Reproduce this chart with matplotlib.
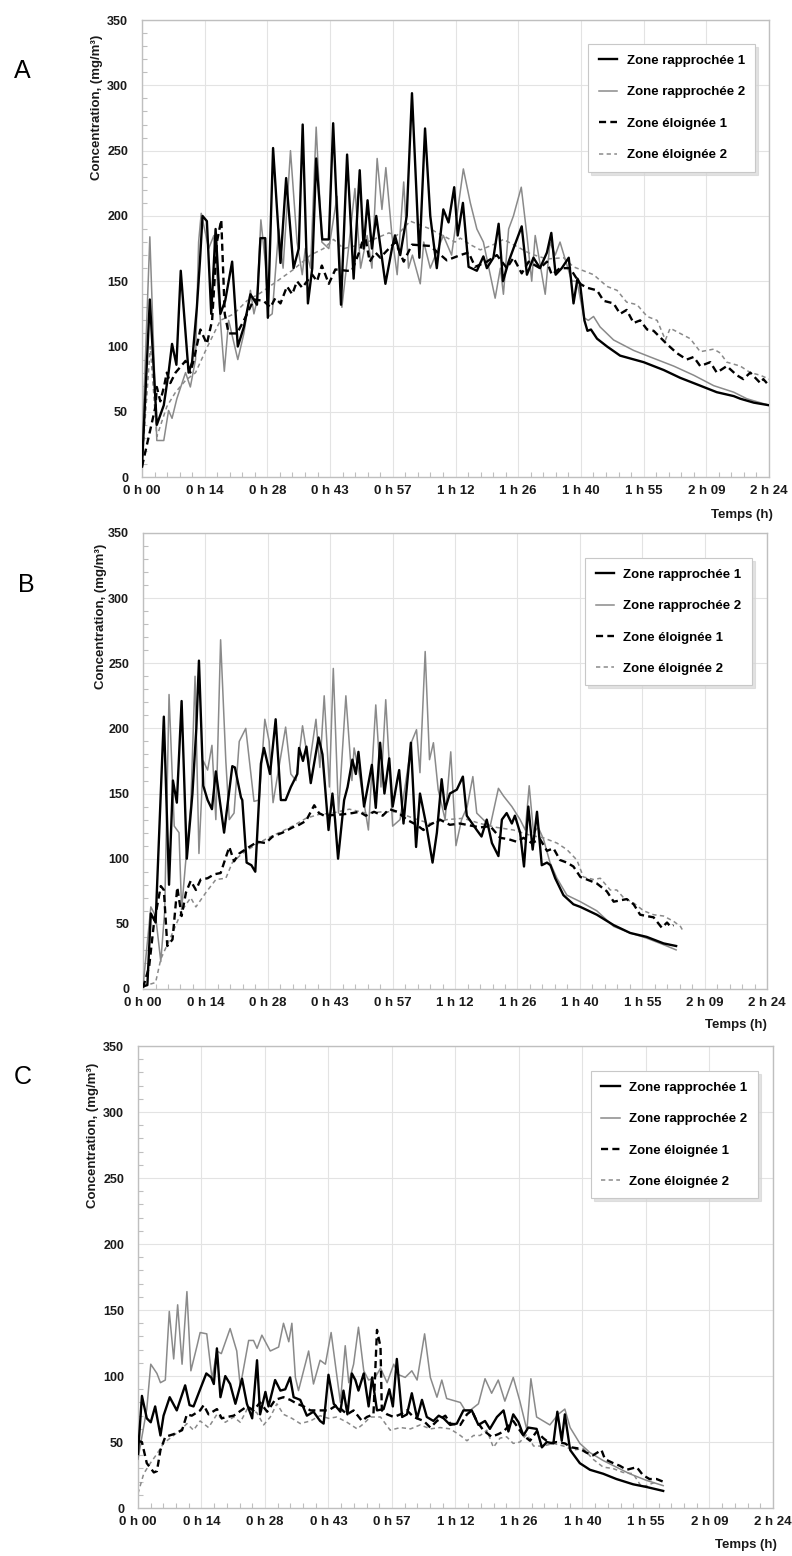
import numpy as np
import matplotlib.pyplot as plt
from matplotlib.ticker import MultipleLocator, FixedLocator, FixedFormatter

plt.rcParams['font.family'] = ['Liberation Sans', 'DejaVu Sans']

# axe x en minutes : 0 h 00 -> 2 h 24 (144 min)
xticks_min = [0, 14.4, 28.8, 43.2, 57.6, 72, 86.4, 100.8, 115.2, 129.6, 144]
xtick_labels = ["0 h 00", "0 h 14", "0 h 28", "0 h 43", "0 h 57", "1 h 12",
                "1 h 26", "1 h 40", "1 h 55", "2 h 09", "2 h 24"]
series_labels = ["Zone rapprochée 1", "Zone rapprochée 2", "Zone éloignée 1", "Zone éloignée 2"]
panel_letters = ["A", "B", "C"]

# ---------------- A ----------------
tA_r1 = [0.0, 1.8, 3.4, 5.0, 6.1, 6.9, 7.9, 8.9, 10.7, 11.5, 12.6, 13.3, 13.9, 14.9, 15.9, 16.9, 18.0, 19.1,
         20.7, 22.0, 23.4, 24.9, 26.4, 27.2, 28.3, 28.9, 30.1, 31.8, 33.1, 34.8, 36.0, 36.9, 38.1, 39.1, 40.0,
         41.4, 42.9, 43.9, 45.7, 47.1, 48.6, 50.0, 50.9, 51.8, 52.8, 53.8, 55.9, 57.4, 58.1, 59.3, 60.8, 62.0,
         63.7, 65.0, 66.2, 67.7, 69.2, 70.4, 71.7, 72.5, 73.7, 75.0, 76.9, 78.4, 79.2, 80.7, 81.9, 82.9, 84.2,
         85.3, 87.2, 88.4, 89.9, 91.4, 93.0, 94.0, 95.0, 96.4, 98.0, 99.1, 100.0, 100.6, 101.6, 102.3, 103.1,
         104.5, 106.8, 109.8, 115.2, 119.8, 123.6, 128.2, 132.0, 135.9, 137.4, 140.5, 144.0]
vA_r1 = [8, 136, 40, 55, 80, 102, 86, 158, 80, 88, 130, 165, 200, 196, 125, 190, 125, 135,
         165, 100, 115, 140, 132, 183, 183, 122, 252, 164, 229, 160, 175, 270, 133, 160, 244,
         182, 182, 271, 132, 247, 152, 235, 175, 212, 175, 200, 148, 175, 185, 170, 200, 294,
         168, 267, 200, 160, 205, 195, 222, 185, 210, 161, 158, 169, 160, 168, 194, 150, 165,
         175, 192, 155, 168, 160, 172, 187, 155, 160, 168, 133, 152, 148, 120, 112, 113,
         106, 100, 93, 88, 82, 76, 70, 65, 62, 60, 57, 55]

tA_r2 = [0.0, 1.8, 3.4, 5.0, 6.1, 6.9, 8.0, 10.0, 11.1, 12.3, 13.0, 13.6, 15.3, 16.5, 18.9, 19.9, 22.0, 23.4,
         24.9, 25.7, 26.4, 27.3, 28.3, 29.1, 29.9, 31.4, 32.4, 34.1, 35.6, 36.8, 37.5, 38.7, 40.0, 41.3, 42.9,
         44.8, 45.9, 47.1, 48.9, 50.2, 51.7, 52.8, 54.0, 55.1, 56.0, 57.4, 58.6, 60.1, 61.2, 62.1, 63.9, 64.7,
         66.2, 69.2, 71.1, 73.8, 75.4, 76.9, 78.4, 81.1, 82.3, 83.0, 84.2, 85.3, 87.1, 88.4, 89.5, 90.3, 92.6,
         93.7, 94.9, 96.0, 98.7, 99.9, 101.5, 102.5, 103.7, 105.2, 108.3, 112.9, 116.7, 122.1, 126.7, 131.3,
         135.9, 138.9, 144.0]
vA_r2 = [20, 184, 28, 28, 51, 45, 60, 80, 69, 90, 180, 202, 175, 185, 81, 120, 90, 110,
         143, 125, 135, 197, 165, 123, 125, 190, 160, 250, 180, 155, 175, 160, 268, 180, 175,
         215, 130, 165, 221, 160, 185, 160, 244, 205, 237, 185, 155, 226, 160, 170, 148, 180,
         160, 185, 170, 236, 210, 190, 180, 137, 160, 140, 190, 200, 222, 185, 150, 185, 140,
         180, 170, 180, 150, 150, 122, 120, 123, 115, 105, 97, 92, 85, 78, 70,
         65, 60, 55]

tA_e1 = [0.0, 3.1, 3.4, 4.2, 5.1, 5.7, 6.5, 7.7, 10.0, 11.1, 11.9, 13.4, 14.9, 16.1, 17.2, 18.2, 19.0, 19.9,
         21.8, 23.4, 25.7, 27.9, 29.5, 30.6, 31.8, 33.3, 34.5, 35.6, 36.8, 37.9, 39.1, 40.2, 41.3, 42.9, 44.4,
         47.1, 48.2, 50.2, 51.1, 52.3, 53.6, 54.7, 56.7, 58.2, 60.1, 62.0, 66.2, 70.0, 73.1, 75.0, 76.5, 79.2,
         81.5, 83.8, 85.3, 87.2, 88.8, 91.4, 93.0, 94.1, 96.0, 98.3, 100.6, 102.2, 104.5, 106.0, 108.3, 109.8,
         111.3, 112.9, 114.4, 116.0, 117.5, 120.5, 122.8, 125.1, 126.7, 128.2, 130.5, 132.0, 134.3, 136.6,
         138.1, 139.7, 142.0, 142.7, 144.0]
vA_e1 = [8, 54, 69, 58, 70, 80, 72, 80, 89, 80, 90, 113, 102, 120, 180, 197, 125, 110,
         110, 120, 136, 135, 130, 137, 133, 146, 140, 150, 145, 150, 155, 150, 162, 148, 159,
         158, 158, 175, 187, 165, 172, 168, 175, 180, 165, 178, 177, 166, 170, 172, 161, 165,
         170, 160, 168, 156, 165, 160, 165, 155, 160, 160, 148, 145, 143, 135, 133, 125,
         128, 118, 120, 113, 112, 102, 95, 90, 92, 85, 88, 80, 85, 78,
         75, 80, 72, 75, 70]

tA_e2 = [0.0, 1.9, 3.4, 5.7, 7.7, 10.0, 12.3, 14.9, 18.0, 21.1, 24.1, 27.2, 31.0, 34.8, 38.7, 41.7, 44.0,
         46.3, 50.2, 51.7, 56.7, 58.5, 61.6, 66.2, 71.9, 73.1, 75.4, 77.7, 80.7, 83.0, 85.3, 89.2, 93.0, 96.8,
         99.1, 101.4, 103.7, 106.8, 109.1, 111.3, 113.7, 116.0, 118.3, 120.2, 121.3, 123.6, 125.9, 128.2,
         131.3, 132.8, 134.3, 137.4, 139.7, 142.0, 144.0]
vA_e2 = [10, 100, 31, 54, 65, 74, 80, 99, 120, 125, 135, 141, 150, 159, 170, 175, 182,
         175, 178, 180, 187, 185, 196, 190, 180, 183, 178, 174, 178, 182, 178, 171, 167, 168,
         161, 158, 155, 146, 143, 134, 132, 123, 120, 105, 114, 110, 106, 96,
         98, 95, 88, 85, 80, 78, 75]

# ---------------- B ----------------
tB_r1 = [0.0, 1.0, 1.8, 2.9, 4.8, 6.0, 6.9, 7.8, 8.9, 10.1, 11.4, 12.3, 12.9, 13.9, 14.9, 15.9, 16.8, 18.7,
         20.6, 21.2, 22.6, 22.9, 23.9, 25.0, 25.9, 27.2, 27.9, 29.3, 30.6, 31.8, 32.9, 34.1, 35.6, 36.0, 36.9,
         37.7, 38.7, 40.5, 41.4, 42.8, 43.7, 44.3, 45.0, 46.4, 47.2, 48.3, 49.1, 49.7, 51.0, 52.8, 53.7, 54.7,
         55.7, 56.8, 57.6, 58.7, 59.1, 60.1, 61.8, 63.0, 63.9, 65.4, 66.8, 67.8, 68.9, 69.7, 70.8, 72.4, 73.8,
         74.7, 77.0, 78.1, 79.3, 80.5, 82.0, 82.8, 83.9, 85.1, 85.8, 87.0, 87.9, 88.9, 89.9, 90.9, 92.0, 93.2,
         94.0, 95.1, 97.0, 99.3, 100.9, 104.7, 108.6, 112.4, 116.2, 120.1, 123.0]
vB_r1 = [2, 3, 58, 51, 209, 80, 160, 143, 221, 100, 150, 200, 252, 156, 145, 138, 167, 120,
         171, 170, 147, 145, 97, 95, 90, 173, 185, 165, 207, 145, 145, 155, 165, 185, 175,
         186, 158, 193, 180, 122, 150, 130, 100, 145, 155, 176, 165, 182, 140, 172, 139, 189,
         150, 177, 140, 161, 168, 127, 189, 109, 150, 125, 97, 120, 161, 138, 150, 153, 163,
         133, 122, 117, 130, 112, 102, 130, 135, 127, 133, 120, 94, 140, 107, 136, 95, 97,
         95, 85, 72, 65, 63, 57, 49, 43, 40, 35, 33]

tB_r2 = [0.0, 1.8, 2.9, 4.1, 5.0, 6.0, 7.2, 8.3, 8.9, 9.9, 11.0, 12.0, 12.9, 13.9, 14.9, 15.9, 16.8, 17.9,
         19.1, 19.9, 21.0, 22.2, 23.7, 25.6, 26.8, 28.1, 29.1, 30.0, 32.9, 34.1, 35.3, 36.8, 38.3, 39.9, 40.8,
         41.8, 43.0, 43.9, 45.1, 46.8, 48.2, 48.7, 49.9, 52.0, 53.7, 54.9, 56.0, 57.6, 59.3, 60.8, 62.0, 63.1,
         63.9, 65.1, 66.1, 67.0, 68.1, 69.7, 71.0, 72.2, 73.5, 74.8, 76.1, 77.0, 78.5, 80.1, 82.0, 83.2, 85.1,
         87.0, 88.2, 89.1, 90.1, 91.2, 92.4, 93.9, 95.5, 97.8, 100.9, 104.7, 108.6, 112.4, 116.2, 120.1, 123.0]
vB_r2 = [2, 63, 56, 21, 60, 226, 125, 120, 61, 100, 140, 240, 104, 175, 168, 187, 130, 268,
         175, 130, 135, 190, 200, 144, 145, 207, 190, 143, 201, 165, 160, 202, 170, 207, 170,
         225, 155, 246, 135, 225, 160, 185, 165, 122, 218, 155, 222, 125, 130, 163, 190, 199,
         166, 259, 176, 189, 153, 130, 182, 110, 130, 140, 163, 135, 130, 125, 154, 148, 140,
         130, 122, 156, 120, 124, 115, 97, 85, 72, 67, 60, 48, 43, 39, 34, 30]

tB_e1 = [0.0, 1.4, 2.5, 4.1, 4.8, 5.6, 6.8, 7.9, 8.9, 9.9, 11.0, 12.2, 13.3, 14.9, 16.4, 17.9, 19.9, 21.0,
         22.2, 24.5, 26.4, 28.3, 29.9, 32.2, 34.5, 36.0, 37.6, 39.5, 40.6, 41.8, 46.0, 48.3, 49.9, 51.4, 53.3,
         55.3, 56.8, 58.7, 60.8, 63.1, 64.7, 66.2, 68.5, 70.8, 73.1, 77.8, 80.1, 82.4, 84.3, 86.2, 87.8, 89.7,
         91.6, 93.2, 94.7, 96.2, 97.8, 99.3, 100.9, 103.2, 104.7, 107.0, 108.6, 111.6, 113.2, 114.7, 116.2,
         117.8, 119.7, 120.9, 121.7, 122.4]
vB_e1 = [1, 17, 50, 79, 76, 33, 38, 78, 56, 74, 83, 76, 84, 85, 88, 89, 109, 98,
         104, 109, 113, 112, 117, 120, 124, 126, 129, 141, 135, 133, 134, 135, 136, 133, 136,
         133, 138, 136, 130, 126, 122, 126, 130, 126, 127, 124, 125, 116, 115, 113, 116, 112,
         115, 106, 108, 99, 97, 94, 86, 83, 81, 75, 67, 69, 65, 57, 56,
         55, 47, 51, 48, 49]

tB_e2 = [0.0, 2.9, 4.1, 6.8, 9.1, 11.0, 12.2, 14.5, 16.8, 19.1, 20.6, 22.9, 25.2, 28.3, 31.4, 34.5, 37.6,
         40.6, 43.7, 47.6, 51.4, 55.3, 58.5, 62.4, 66.2, 70.1, 73.9, 77.8, 81.6, 85.5, 89.3, 92.4, 95.5, 97.8,
         100.1, 101.6, 104.0, 105.5, 107.8, 109.3, 110.9, 113.2, 115.5, 117.8, 120.1, 122.4, 124.0, 124.7]
vB_e2 = [2, 5, 23, 43, 61, 70, 63, 74, 84, 85, 97, 104, 109, 115, 120, 125, 131,
         134, 135, 138, 135, 136, 136, 131, 127, 130, 131, 127, 124, 122, 118, 116, 112, 107,
         99, 86, 84, 85, 76, 76, 70, 66, 60, 57, 56, 52, 48, 44]

# ---------------- C ----------------
tC_r1 = [0.0, 0.9, 2.0, 2.9, 3.9, 5.1, 5.8, 7.2, 8.8, 10.7, 11.7, 12.6, 14.1, 15.5, 16.6, 17.2, 17.9, 18.7,
         19.8, 20.9, 22.1, 23.6, 24.7, 25.9, 27.0, 27.7, 28.9, 29.6, 31.1, 32.3, 33.4, 34.5, 35.3, 36.8, 38.3,
         39.8, 41.3, 42.1, 43.2, 44.4, 45.9, 46.6, 47.5, 48.5, 49.3, 50.0, 51.2, 52.3, 53.1, 54.2, 55.7, 57.0,
         57.8, 58.7, 59.9, 61.0, 62.1, 63.3, 64.4, 65.5, 67.0, 68.2, 69.3, 70.8, 72.3, 73.8, 75.7, 77.2, 78.7,
         79.8, 81.4, 82.9, 84.0, 85.1, 86.3, 87.4, 88.5, 90.4, 91.6, 92.7, 94.2, 95.1, 96.1, 96.8, 98.0, 100.2,
         102.5, 105.5, 108.5, 112.3, 115.3, 119.1]
vC_r1 = [41, 85, 68, 65, 77, 55, 70, 84, 74, 93, 78, 77, 90, 102, 99, 94, 121, 84,
         100, 94, 79, 98, 79, 68, 112, 71, 88, 77, 97, 89, 90, 99, 84, 82, 70,
         73, 66, 64, 101, 79, 73, 89, 71, 102, 97, 89, 102, 77, 99, 74, 75, 90,
         77, 113, 69, 71, 87, 68, 82, 69, 66, 70, 68, 63, 64, 74, 74, 63, 66,
         60, 69, 74, 58, 71, 65, 55, 61, 60, 46, 50, 49, 73, 51, 71, 44, 34,
         29, 26, 22, 18, 16, 13]

tC_r2 = [0.0, 2.0, 2.9, 4.3, 5.1, 6.2, 7.1, 8.1, 9.0, 10.0, 11.1, 12.0, 13.4, 14.1, 15.6, 16.8, 17.9, 18.9,
         20.9, 22.4, 23.2, 25.1, 26.2, 27.0, 28.1, 30.0, 31.9, 33.0, 34.2, 34.9, 35.7, 36.4, 38.7, 39.8, 41.3,
         42.5, 43.8, 45.9, 47.0, 47.8, 48.9, 50.0, 51.2, 52.3, 53.8, 55.0, 56.5, 58.0, 59.1, 60.6, 62.1, 63.3,
         65.0, 66.3, 67.8, 68.9, 70.0, 73.1, 74.2, 75.3, 77.2, 78.7, 80.2, 81.7, 83.2, 85.1, 86.6, 88.2, 89.1,
         90.4, 91.9, 93.4, 95.3, 96.8, 98.0, 100.2, 102.5, 105.5, 108.5, 111.5, 115.3, 119.1]
vC_r2 = [37, 75, 109, 102, 95, 97, 149, 113, 154, 109, 164, 104, 123, 133, 132, 98, 119, 117,
         136, 119, 92, 127, 127, 121, 131, 119, 122, 140, 126, 140, 99, 89, 119, 94, 112,
         109, 133, 80, 123, 95, 109, 137, 104, 97, 99, 106, 95, 109, 101, 99, 104, 97,
         132, 99, 84, 97, 83, 80, 74, 74, 79, 98, 87, 97, 81, 99, 81, 59, 98,
         69, 66, 63, 71, 75, 61, 49, 42, 36, 31, 26, 21, 17]

tC_e1 = [0.0, 0.9, 2.0, 3.6, 4.3, 5.1, 6.2, 8.1, 10.0, 11.1, 12.2, 14.1, 14.9, 16.0, 17.9, 19.0, 20.2, 21.7,
         24.7, 26.2, 27.7, 29.3, 31.1, 33.0, 34.5, 36.1, 37.6, 39.1, 43.2, 45.1, 47.4, 48.9, 50.8, 51.9, 53.4,
         54.2, 55.0, 55.3, 56.5, 58.0, 59.5, 61.0, 62.5, 64.8, 66.3, 67.8, 69.7, 70.8, 73.1, 74.6, 75.7, 76.8,
         78.3, 80.2, 81.7, 82.9, 85.1, 87.4, 88.9, 90.4, 91.9, 93.4, 94.9, 96.8, 98.3, 100.2, 101.7, 103.2,
         105.1, 105.9, 107.8, 109.3, 110.8, 113.1, 114.5, 116.0, 117.6, 119.1]
vC_e1 = [51, 50, 34, 27, 28, 44, 54, 56, 59, 71, 70, 74, 78, 71, 75, 68, 69, 70,
         77, 74, 80, 73, 82, 84, 82, 79, 77, 74, 74, 78, 71, 74, 66, 69, 71,
         135, 122, 74, 71, 69, 71, 74, 69, 66, 61, 66, 70, 64, 63, 71, 74, 66,
         59, 54, 56, 58, 66, 55, 51, 58, 53, 49, 50, 49, 46, 45, 42, 40,
         44, 37, 34, 32, 29, 31, 25, 22, 22, 20]

tC_e2 = [0.0, 1.3, 2.8, 4.3, 5.8, 7.3, 9.6, 11.1, 12.6, 14.1, 16.0, 17.9, 19.8, 21.7, 23.2, 25.1, 27.0,
         28.5, 30.0, 31.5, 33.0, 34.9, 36.8, 39.1, 41.3, 43.2, 45.1, 47.4, 49.7, 51.2, 52.7, 55.0, 57.2, 59.5,
         61.8, 64.0, 66.3, 68.5, 70.8, 73.1, 74.6, 76.1, 77.6, 79.1, 80.6, 82.1, 83.6, 85.1, 86.6, 88.2, 89.7,
         91.9, 94.2, 96.5, 98.7, 101.0, 103.2, 105.5, 107.7, 110.0, 112.3, 114.2, 115.3, 117.6]
vC_e2 = [11, 26, 34, 41, 49, 53, 59, 64, 59, 66, 61, 71, 65, 69, 65, 77, 72,
         63, 69, 79, 71, 68, 64, 66, 70, 68, 69, 65, 60, 64, 69, 69, 59, 61,
         60, 63, 60, 61, 60, 55, 51, 55, 55, 59, 46, 53, 54, 49, 50, 56, 47,
         47, 49, 47, 44, 45, 37, 31, 30, 27, 26, 16, 17, 20]

panels = [
    [(tA_r1, vA_r1), (tA_r2, vA_r2), (tA_e1, vA_e1), (tA_e2, vA_e2)],
    [(tB_r1, vB_r1), (tB_r2, vB_r2), (tB_e1, vB_e1), (tB_e2, vB_e2)],
    [(tC_r1, vC_r1), (tC_r2, vC_r2), (tC_e1, vC_e1), (tC_e2, vC_e2)],
]

# styles des 4 courbes (meme ordre que la legende)
styles = [
    dict(color='black', lw=1.7, zorder=4),
    dict(color='#8a8a8a', lw=1.1, zorder=3),
    dict(color='black', lw=1.7, dashes=(3, 1.8), zorder=3.5),
    dict(color='#8a8a8a', lw=1.1, dashes=(2.8, 2.2), zorder=2),
]

# positions des axes [gauche, bas, largeur, hauteur] en fraction de figure
axes_pos = [
    [0.1793, 0.6934, 0.7917, 0.2937],
    [0.1806, 0.3644, 0.7880, 0.2931],
    [0.1742, 0.0308, 0.8018, 0.2969],
]
ylabel_xy = [(-0.062, 0.81), (-0.058, 0.818), (-0.061, 0.807)]
legend_xy = [(0.978, 0.947), (0.976, 0.945), (0.976, 0.946)]
temps_xy = [(1.006, -0.083), (1.0, -0.079), (1.006, -0.08)]
letter_xy = [(0.0278, 0.9544), (0.0328, 0.624), (0.029, 0.308)]

FS = 9.5
FS_Y = 9
GRIS_AXE = '#bfbfbf'


def drawPanel(ax, series, k):
    for (t, v), lbl, st in zip(series, series_labels, styles):
        ax.plot(t, v, label=lbl, solid_joinstyle='round', **st)

    ax.set_xlim(0, 144)
    ax.set_ylim(0, 350)
    ax.xaxis.set_major_locator(FixedLocator(xticks_min))
    ax.xaxis.set_major_formatter(FixedFormatter(xtick_labels))
    ax.xaxis.set_minor_locator(MultipleLocator(2.88))
    ax.yaxis.set_major_locator(MultipleLocator(50))
    ax.yaxis.set_minor_locator(MultipleLocator(10))

    ax.grid(True, which='major', color='#e3e3e3', lw=0.8, zorder=0)
    ax.set_axisbelow(True)
    for s in ax.spines.values():
        s.set_color(GRIS_AXE)
        s.set_linewidth(1.0)

    ax.tick_params(axis='both', which='both', direction='in', color=GRIS_AXE)
    ax.tick_params(axis='both', which='major', length=0)
    ax.tick_params(axis='both', which='minor', length=3.5, width=0.8)
    ax.tick_params(axis='y', which='major', pad=10)
    ax.tick_params(axis='x', which='major', pad=6)
    for lab in ax.get_xticklabels():
        lab.set_fontsize(FS)
        lab.set_fontweight('bold')
        lab.set_color('#1a1a1a')
    for lab in ax.get_yticklabels():
        lab.set_fontsize(FS_Y)
        lab.set_fontweight('bold')
        lab.set_color('#1a1a1a')

    ax.set_ylabel("Concentration, (mg/m³)", fontsize=FS, fontweight='bold', color='#1a1a1a')
    ax.yaxis.set_label_coords(*ylabel_xy[k])
    ax.text(temps_xy[k][0], temps_xy[k][1], "Temps (h)", transform=ax.transAxes,
            ha='right', va='center', fontsize=FS, fontweight='bold', color='#1a1a1a')

    leg = ax.legend(loc='upper right', bbox_to_anchor=legend_xy[k], borderaxespad=0,
                    prop={'size': FS, 'weight': 'bold'}, frameon=True, fancybox=False,
                    framealpha=1, edgecolor='#c8c8c8', labelspacing=1.45, borderpad=0.8,
                    handlelength=1.4, handletextpad=0.7,
                    shadow={'color': '#d6d6d6', 'alpha': 0.7})
    leg.get_frame().set_linewidth(0.8)
    leg.set_zorder(10)


fig = plt.figure(figsize=(7.92, 15.56), dpi=100)
for k in range(3):
    ax = fig.add_axes(axes_pos[k])
    drawPanel(ax, panels[k], k)
    fig.text(letter_xy[k][0], letter_xy[k][1], panel_letters[k], fontsize=18,
             ha='center', va='center', color='black')

fig.savefig('out.png', dpi=100)
